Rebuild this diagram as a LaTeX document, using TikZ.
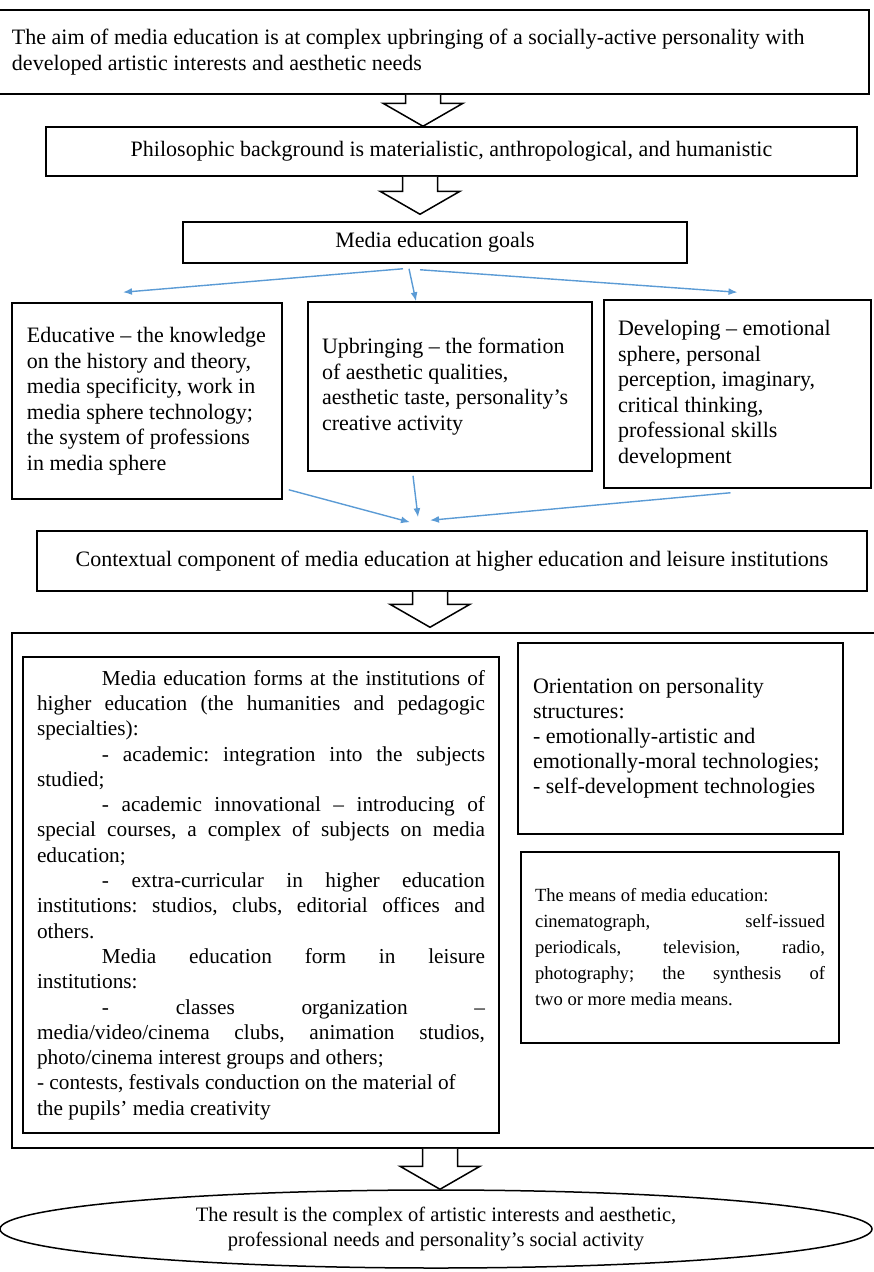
\documentclass[tikz,border=0pt]{standalone}
\usepackage{fontspec}
\setmainfont{Liberation Serif}
\usetikzlibrary{arrows.meta,shapes.geometric,calc}
\frenchspacing

\definecolor{goalblue}{RGB}{91,155,213}
% a justified line of given width
\newcommand{\jline}[2][448pt]{\makebox[#1][s]{#2}}
% hollow block arrow from #1 (top of shaft) to #2 (tip)
\newcommand{\hollowarrow}[2]{%
  \draw[hollow] ($(#1)+(-17.5,0)$) -- ($(#2)+(-17.5,-23)$) -- ($(#2)+(-40,-23)$) -- (#2)
    -- ($(#2)+(40,-23)$) -- ($(#2)+(17.5,-23)$) -- ($(#1)+(17.5,0)$);}

\begin{document}
\begin{tikzpicture}[x=1pt,y=-1pt,
  font=\fontsize{22}{25.5}\selectfont,
  boxed/.style={draw,line width=1.5pt,inner sep=0pt},
  tiny/.style={font=\fontsize{18.6}{26}\selectfont},
  hollow/.style={draw,line width=1.5pt,fill=white,line join=miter},
  goal/.style={draw=goalblue,line width=1.4pt,-{Latex[length=9pt,width=7pt]}}]
\useasboundingbox (0,0) rectangle (873,1272);

\node[boxed,minimum width=871pt,minimum height=84pt,text width=843pt,align=flush left] (aim) at (433.5,52)
  {The aim of media education is at complex upbringing of a socially-active personality with\\
   developed artistic interests and aesthetic needs};
\node[boxed,minimum width=811pt,minimum height=49pt] (philo) at (451.5,151.5)
  {Philosophic background is materialistic, anthropological, and humanistic};
\node[boxed,minimum width=504pt,minimum height=41pt] (goals) at (435,242.5) {Media education goals};

\node[boxed,minimum width=270pt,minimum height=196pt,text width=240pt,align=flush left] (educ) at (147,401)
  {Educative – the knowledge\\ on the history and theory,\\ media specificity, work in\\
   media sphere technology;\\ the system of professions\\ in media sphere};
\node[boxed,minimum width=284pt,minimum height=169pt,text width=256pt,align=flush left] (up) at (450,386.5)
  {Upbringing – the formation\\ of aesthetic qualities,\\ aesthetic taste, personality’s\\ creative activity};
\node[boxed,minimum width=267pt,minimum height=188pt,text width=239pt,align=flush left] (dev) at (737.5,394)
  {Developing – emotional\\ sphere, personal\\ perception, imaginary,\\ critical thinking,\\
   professional skills\\ development};

\node[boxed,minimum width=830pt,minimum height=60pt] (context) at (452,561)
  {Contextual component of media education at higher education and leisure institutions};

% lower part
\node[boxed,minimum width=868pt,minimum height=515pt] (frame) at (446,890.5) {};
\node[boxed,minimum width=476pt,minimum height=476pt,text width=448pt,align=flush left,
  font=\fontsize{21.3}{25.3}\selectfont] (forms) at (261,895)
  {\jline{\hspace*{65pt}Media education forms at the institutions of}\\
   \jline{higher education (the humanities and pedagogic}\\
   specialties):\\
   \jline{\hspace*{65pt}- academic: integration into the subjects}\\
   studied;\\
   \jline{\hspace*{65pt}- academic innovational – introducing of}\\
   \jline{special courses, a complex of subjects on media}\\
   education;\\
   \jline{\hspace*{65pt}- extra-curricular in higher education}\\
   \jline{institutions: studios, clubs, editorial offices and}\\
   others.\\
   \jline{\hspace*{65pt}Media education form in leisure}\\
   institutions:\\
   \jline{\hspace*{65pt}- classes organization –}\\
   \jline{media/video/cinema clubs, animation studios,}\\
   photo/cinema interest groups and others;\\
   - contests, festivals conduction on the material of\\
   the pupils’ media creativity};
\node[boxed,minimum width=325pt,minimum height=191pt,text width=295pt,align=flush left,
  font=\fontsize{22}{25}\selectfont] (orient) at (680.5,738.5)
  {Orientation on personality\\ structures:\\ - emotionally-artistic and\\
   emotionally-moral technologies;\\ - self-development technologies};
\node[boxed,tiny,minimum width=318pt,minimum height=191pt,text width=290pt,align=flush left] (means) at (680,947.5)
  {The means of media education:\\
   \jline[290pt]{cinematograph, self-issued}\\
   \jline[290pt]{periodicals, television, radio,}\\
   \jline[290pt]{photography; the synthesis of}\\
   two or more media means.};

\node[boxed,ellipse,minimum width=872pt,minimum height=78pt,align=flush center,
  font=\fontsize{20.5}{25.5}\selectfont] (result) at (436,1229)
  {The result is the complex of artistic interests and aesthetic,\\
   professional needs and personality’s social activity};

% block arrows
\coordinate (s1) at (aim.south -| 423,0);
\coordinate (e1) at (philo.north -| 423,0);
\coordinate (s2) at (philo.south -| 420,0);
\coordinate (e2) at ($(goals.north -| 420,0)+(0,-7)$);
\coordinate (s3) at (context.south -| 430,0);
\coordinate (e3) at ($(frame.north -| 430,0)+(0,-5)$);
\coordinate (s4) at (frame.south -| 440,0);
\coordinate (e4) at (result.north -| 440,0);
\hollowarrow{s1}{e1}
\hollowarrow{s2}{e2}
\hollowarrow{s3}{e3}
\hollowarrow{s4}{e4}

% goal arrows
\draw[goal] ([xshift=-32pt,yshift=-5pt]goals.south) -- ([xshift=-24pt,yshift=10pt]educ.north);
\draw[goal] ([xshift=-26pt,yshift=-5pt]goals.south) -- ([xshift=-34pt]up.north);
\draw[goal] ([xshift=-15pt,yshift=-6pt]goals.south) -- ([yshift=7pt]dev.north);
\draw[goal] ([xshift=6pt,yshift=10pt]educ.south east) -- ([xshift=-42pt,yshift=8pt]context.north);
\draw[goal] ([xshift=-37pt,yshift=-4pt]up.south) -- ([xshift=-34pt,yshift=13pt]context.north);
\draw[goal] ([xshift=-7pt,yshift=-4pt]dev.south) -- ([xshift=-22pt,yshift=10pt]context.north);
\end{tikzpicture}
\end{document}
